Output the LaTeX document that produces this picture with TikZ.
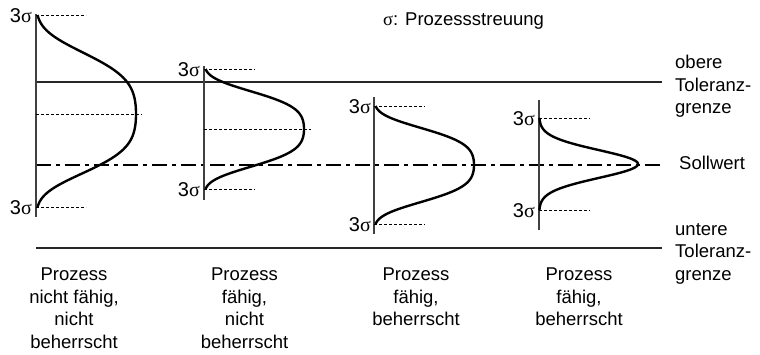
\documentclass[tikz,border=0pt]{standalone}
\usepackage{fontspec}
\setmainfont{Liberation Sans}
\newfontfamily\seriffont{Liberation Serif}
\newcommand{\sig}{{\seriffont σ}}
\begin{document}
\begin{tikzpicture}[x=1pt,y=-1pt,
  tol/.style={line width=1.2pt, black!85},
  axisline/.style={line width=1.3pt, black!75},
  guide/.style={line width=0.8pt, dash pattern=on 3pt off 2pt},
  target/.style={line width=2.4pt, dash pattern=on 15pt off 5pt on 4pt off 5pt},
  curve/.style={line width=2.4pt, line join=round},
  lab/.style={font=\fontsize{18.5}{22.5}\selectfont, inner sep=0pt},
  siglab/.style={font=\fontsize{20}{22}\selectfont, inner sep=0pt, anchor=east}]
\useasboundingbox (0,0) rectangle (760,355);

% tolerance and target lines
\draw[tol] (36,82) -- (662,82);
\draw[tol] (36,248) -- (662,248);
\draw[target] (36,165) -- (662,165);

% curve 1
\draw[axisline] (36,14) -- (36,217);
\draw[guide] (36,15) -- (86,15);
\draw[guide] (36,114) -- (142,114);
\draw[guide] (36,207) -- (86,207);
\draw[curve] plot[domain=-1:1,samples=81,variable=\v,smooth]
  ({36+100*exp(-0.46*\v*\v-3.7*\v*\v*\v*\v)},{114+96*\v-3*\v*\v});
\node[siglab] (s1a) at (32,16) {3\sig};
\node[siglab] (s1b) at (32,208) {3\sig};

% curve 2
\draw[axisline] (204,66) -- (204,200);
\draw[guide] (204,69) -- (255,69);
\draw[guide] (204,129) -- (311,129);
\draw[guide] (204,189) -- (255,189);
\draw[curve] plot[domain=-1:1,samples=81,variable=\v,smooth]
  ({204+100*exp(-0.46*\v*\v-3.7*\v*\v*\v*\v)},{129+60*\v});
\node[siglab] (s2a) at (200,70) {3\sig};
\node[siglab] (s2b) at (200,190) {3\sig};

% curve 3
\draw[axisline] (374,97) -- (374,234);
\draw[guide] (374,106) -- (425,106);
\draw[guide] (374,224) -- (425,224);
\draw[curve] plot[domain=-1:1,samples=81,variable=\v,smooth]
  ({374+100*exp(-0.46*\v*\v-3.7*\v*\v*\v*\v)},{165+59*\v});
\node[siglab] (s3a) at (371,107) {3\sig};
\node[siglab] (s3b) at (371,225) {3\sig};

% curve 4
\draw[axisline] (539,100) -- (539,230);
\draw[guide] (539,118) -- (590,118);
\draw[guide] (539,210) -- (590,210);
\draw[curve] plot[domain=-1:1,samples=81,variable=\v,smooth]
  ({539+99*exp(-5.5*\v*\v)},{164+46*\v});
\node[siglab] (s4a) at (535,119) {3\sig};
\node[siglab] (s4b) at (535,211) {3\sig};

% legend
\node[lab, anchor=base west] (legend) at (383,26) {\sig: Prozessstreuung};

% right labels
\node[lab, anchor=base west, align=left] (otg) at (675,114) {obere\\Toleranz-\\grenze};
\node[lab, anchor=base west] (soll) at (679,170) {Sollwert};
\node[lab, anchor=base west, align=left] (utg) at (675,280) {untere\\Toleranz-\\grenze};

% bottom captions
\node[lab, anchor=base, align=center] (c1) at (74,348) {Prozess\\nicht fähig,\\nicht\\beherrscht};
\node[lab, anchor=base, align=center] (c2) at (244.5,348) {Prozess\\fähig,\\nicht\\beherrscht};
\node[lab, anchor=base, align=center] (c3) at (416,325.5) {Prozess\\fähig,\\beherrscht};
\node[lab, anchor=base, align=center] (c4) at (579,325.5) {Prozess\\fähig,\\beherrscht};
\end{tikzpicture}
\end{document}
